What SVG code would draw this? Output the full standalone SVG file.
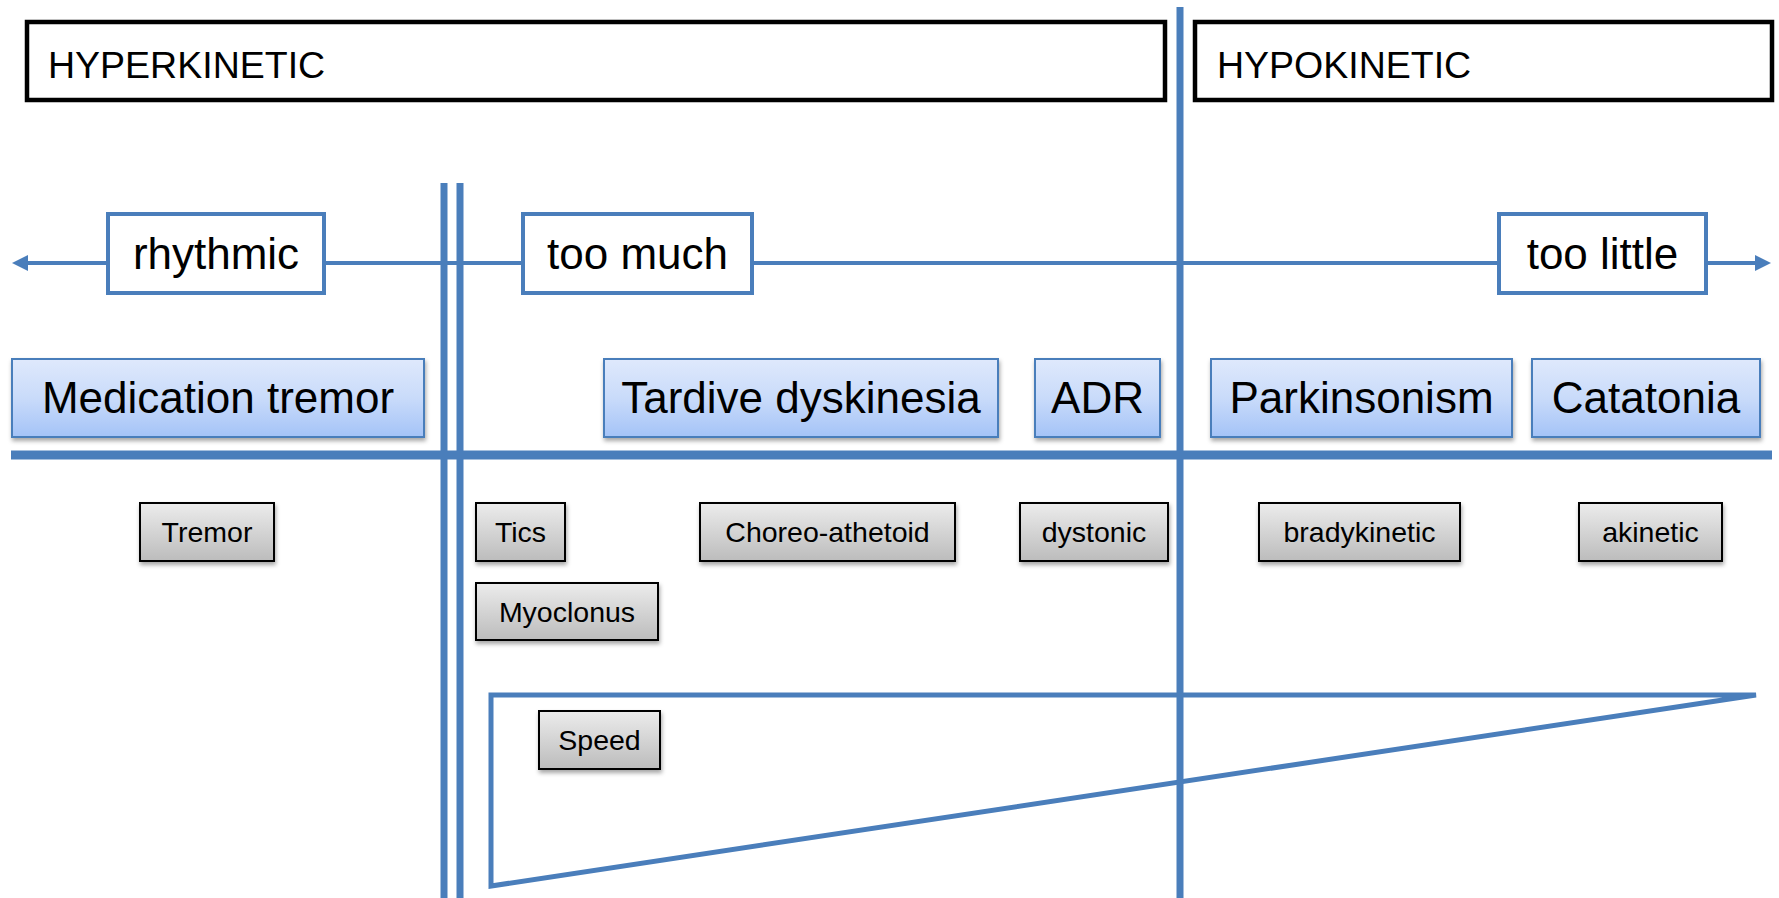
<svg xmlns="http://www.w3.org/2000/svg" width="1779" height="898" viewBox="0 0 1779 898">
<defs>
<linearGradient id="gBlue" x1="0" y1="0" x2="0" y2="1">
<stop offset="0" stop-color="#dfe9fc"/><stop offset="0.5" stop-color="#c9dbfa"/><stop offset="1" stop-color="#a4c3f7"/>
</linearGradient>
<linearGradient id="gGray" x1="0" y1="0" x2="0" y2="1">
<stop offset="0" stop-color="#ececec"/><stop offset="1" stop-color="#bcbcbc"/>
</linearGradient>
<filter id="sh" x="-10%" y="-20%" width="120%" height="150%">
<feDropShadow dx="1" dy="3" stdDeviation="2" flood-color="#000" flood-opacity="0.35"/>
</filter>
<marker id="arr" markerUnits="userSpaceOnUse" markerWidth="16" markerHeight="16" refX="0" refY="8" orient="auto-start-reverse">
<path d="M0,0 L16,8 L0,16 z" fill="#4a7ebb"/>
</marker>
<style>
text{font-family:"Liberation Sans",Arial,sans-serif;fill:#000}
.hdr{fill:#fff;stroke:#000;stroke-width:4.5}
.hdrt{font-size:37.5px}
.lbl{fill:#fff;stroke:#4a7ebb;stroke-width:4}
.lblt{font-size:44px;text-anchor:middle}
.blue{fill:url(#gBlue);stroke:#4a7ebb;stroke-width:2;filter:url(#sh)}
.bluet{font-size:44px;text-anchor:middle}
.gray{fill:url(#gGray);stroke:#000;stroke-width:2;filter:url(#sh)}
.grayt{font-size:28.5px;text-anchor:middle}
.ln{stroke:#4a7ebb;fill:none}
</style>
</defs>
<rect width="1779" height="898" fill="#fff"/>

<g id="connectors">
<line class="ln" x1="28" y1="263" x2="1755" y2="263" stroke-width="4" marker-start="url(#arr)" marker-end="url(#arr)"/>
<line class="ln" x1="444" y1="183" x2="444" y2="898" stroke-width="7"/>
<line class="ln" x1="460" y1="183" x2="460" y2="898" stroke-width="7"/>
<line class="ln" x1="11" y1="455" x2="1772" y2="455" stroke-width="9"/>
<polygon class="ln" points="491,695 1756,695 491,886" stroke-width="5" stroke-linejoin="miter"/>
<line class="ln" x1="1180" y1="7" x2="1180" y2="898" stroke-width="7"/>
</g>

<g id="hyperkinetic"><rect class="hdr" x="27" y="22" width="1138" height="78"/><text class="hdrt" x="48" y="78">HYPERKINETIC</text></g>
<g id="hypokinetic"><rect class="hdr" x="1195" y="22" width="577" height="78"/><text class="hdrt" x="1217" y="78">HYPOKINETIC</text></g>

<g id="rhythmic"><rect class="lbl" x="108" y="214" width="216" height="79"/><text class="lblt" x="216" y="269">rhythmic</text></g>
<g id="too-much"><rect class="lbl" x="523" y="214" width="229" height="79"/><text class="lblt" x="637.5" y="269">too much</text></g>
<g id="too-little"><rect class="lbl" x="1499" y="214" width="207" height="79"/><text class="lblt" x="1602.5" y="269">too little</text></g>

<g id="medication-tremor"><rect class="blue" x="12" y="359" width="412" height="78"/><text class="bluet" x="218" y="413">Medication tremor</text></g>
<g id="tardive-dyskinesia"><rect class="blue" x="604" y="359" width="394" height="78"/><text class="bluet" x="801" y="413">Tardive dyskinesia</text></g>
<g id="adr"><rect class="blue" x="1035" y="359" width="125" height="78"/><text class="bluet" x="1097.5" y="413">ADR</text></g>
<g id="parkinsonism"><rect class="blue" x="1211" y="359" width="301" height="78"/><text class="bluet" x="1361.5" y="413">Parkinsonism</text></g>
<g id="catatonia"><rect class="blue" x="1532" y="359" width="228" height="78"/><text class="bluet" x="1646" y="413">Catatonia</text></g>

<g id="tremor"><rect class="gray" x="140" y="503" width="134" height="58"/><text class="grayt" x="207" y="542">Tremor</text></g>
<g id="tics"><rect class="gray" x="476" y="503" width="89" height="58"/><text class="grayt" x="520.5" y="542">Tics</text></g>
<g id="choreo-athetoid"><rect class="gray" x="700" y="503" width="255" height="58"/><text class="grayt" x="827.5" y="542">Choreo-athetoid</text></g>
<g id="dystonic"><rect class="gray" x="1020" y="503" width="148" height="58"/><text class="grayt" x="1094" y="542">dystonic</text></g>
<g id="bradykinetic"><rect class="gray" x="1259" y="503" width="201" height="58"/><text class="grayt" x="1359.5" y="542">bradykinetic</text></g>
<g id="akinetic"><rect class="gray" x="1579" y="503" width="143" height="58"/><text class="grayt" x="1650.5" y="542">akinetic</text></g>
<g id="myoclonus"><rect class="gray" x="476" y="583" width="182" height="57"/><text class="grayt" x="567" y="622">Myoclonus</text></g>
<g id="speed"><rect class="gray" x="539" y="711" width="121" height="58"/><text class="grayt" x="599.5" y="750">Speed</text></g>
</svg>
